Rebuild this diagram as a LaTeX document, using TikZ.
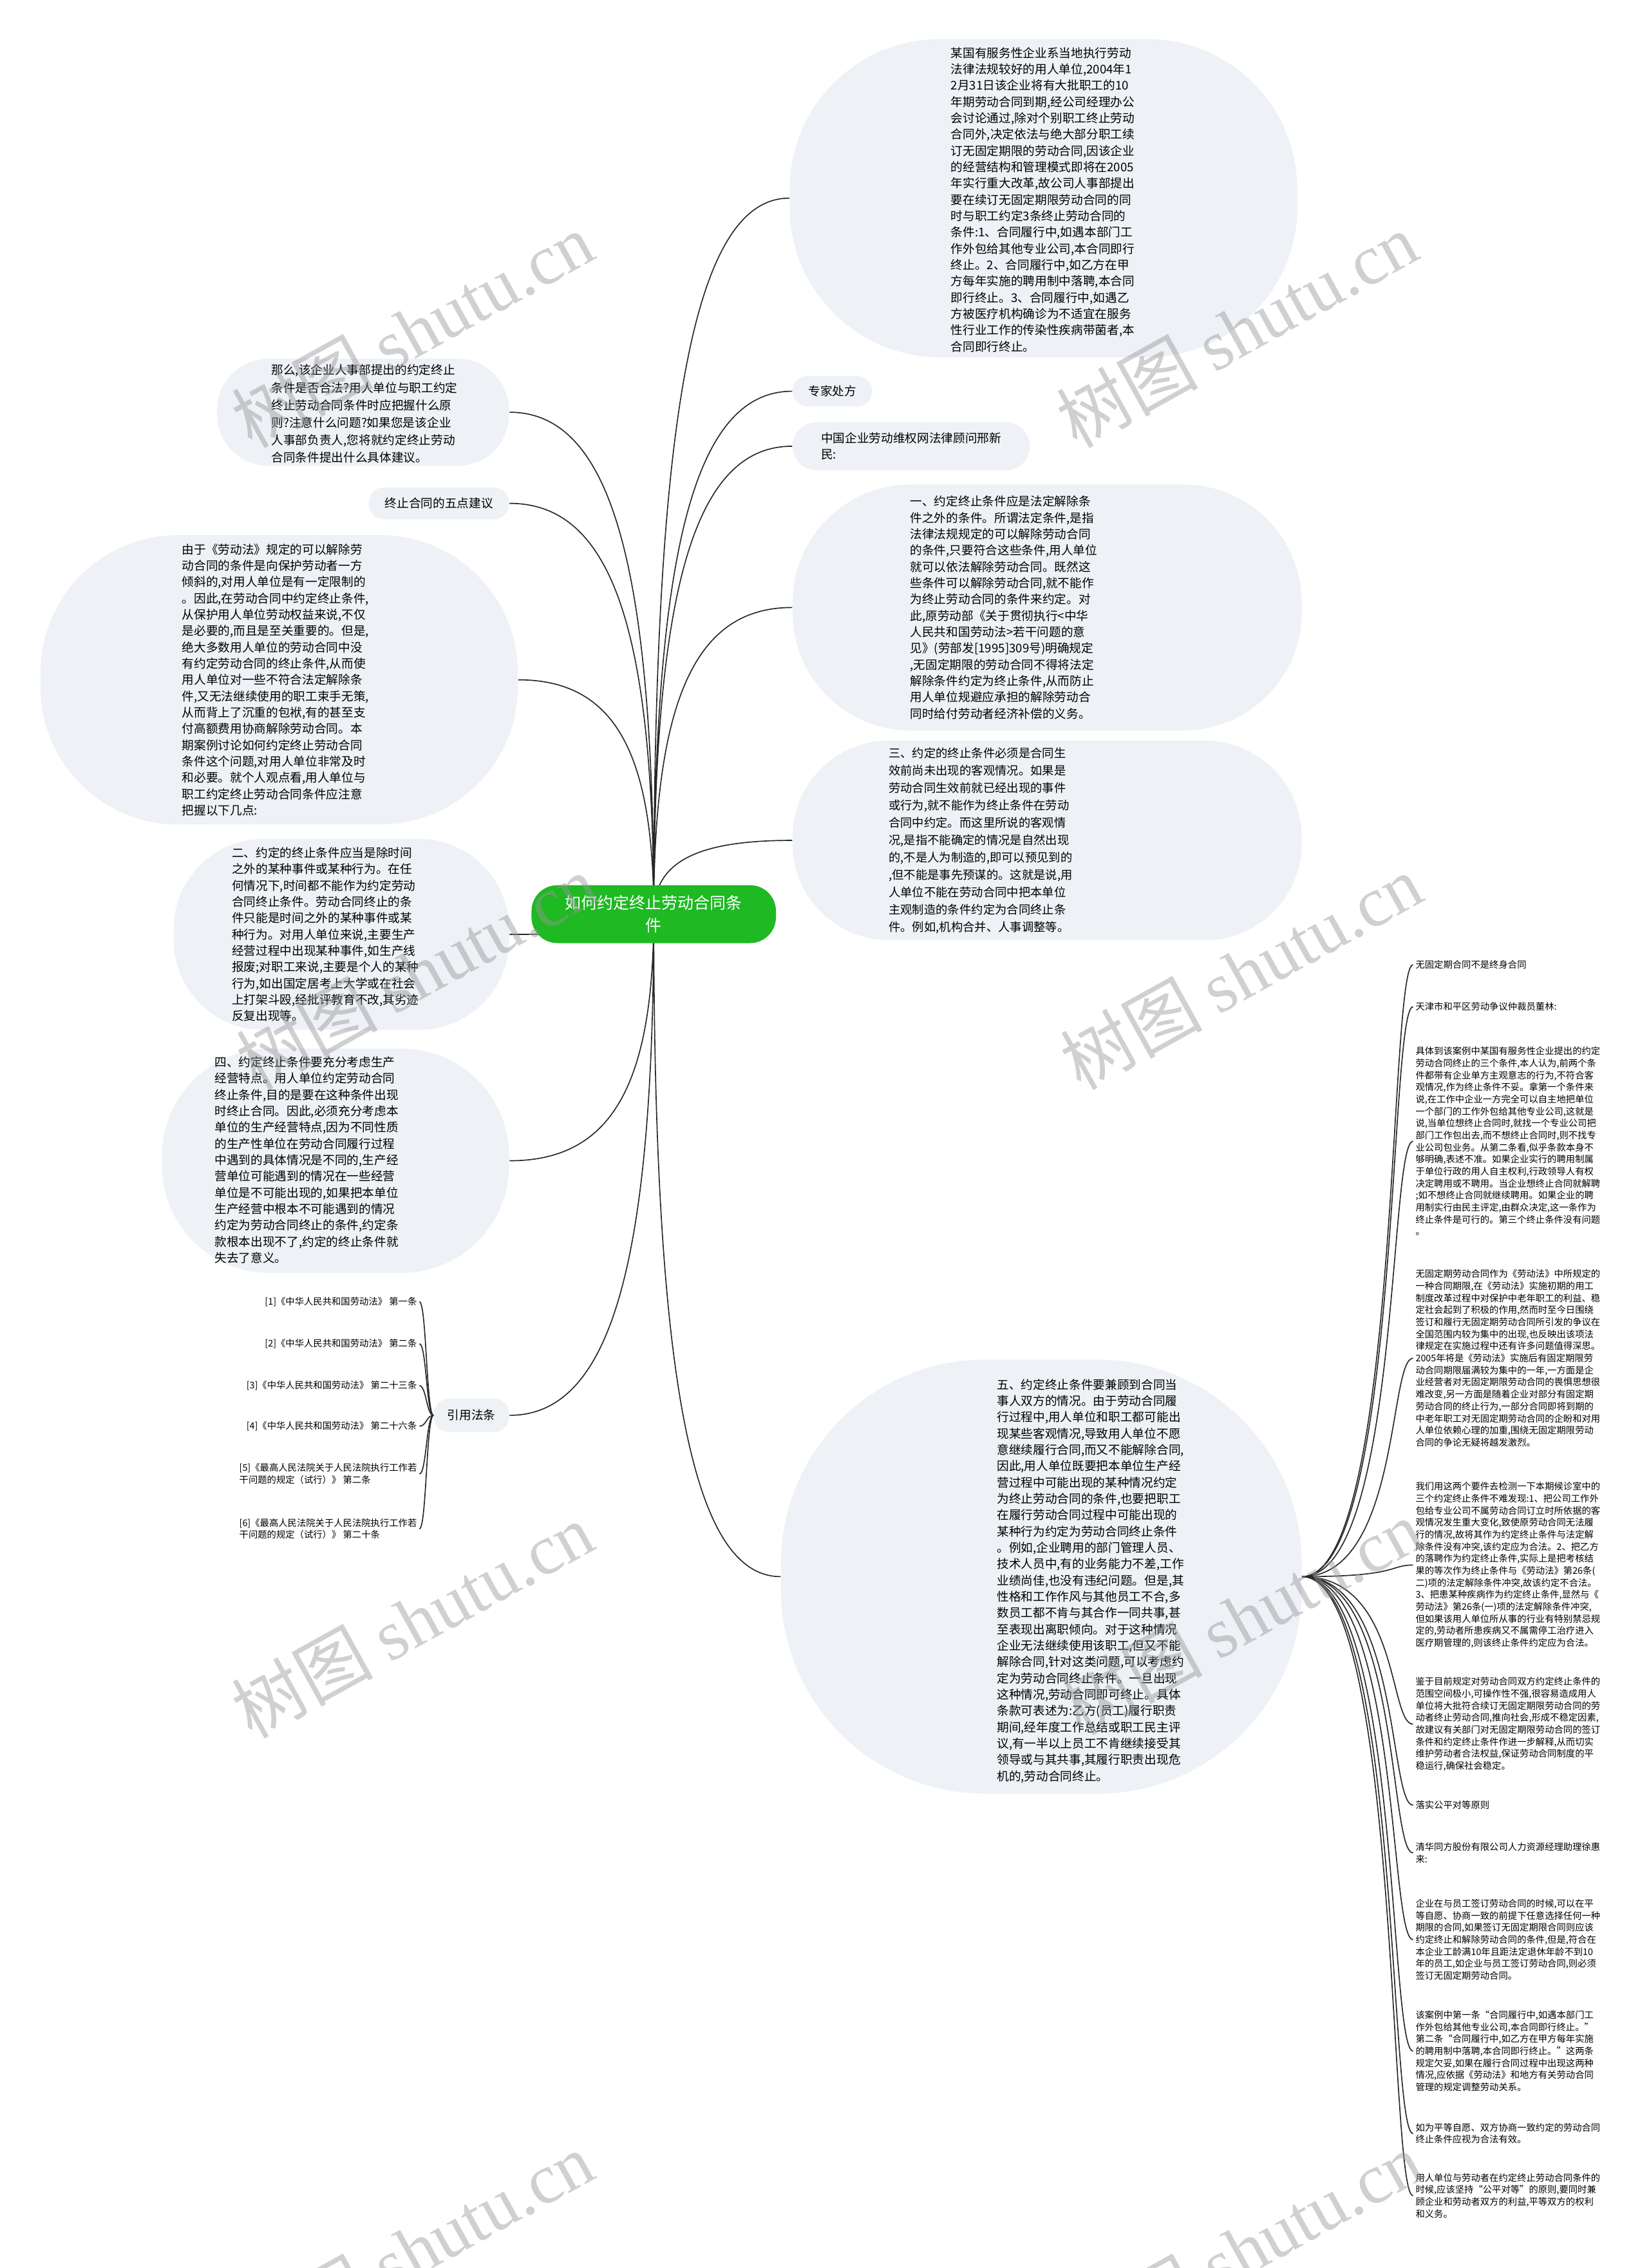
\documentclass[tikz,border=0pt]{standalone}
\usepackage{fontspec}
\setmainfont{Noto Sans CJK SC}
\newfontfamily\wmserif{Liberation Serif}
\usetikzlibrary{calc, backgrounds}
\definecolor{bubblebg}{RGB}{238,241,245}
\definecolor{rootgreen}{RGB}{30,185,35}
\definecolor{linkcol}{RGB}{40,40,40}
\definecolor{wmgray}{RGB}{150,150,150}
\newlength{\rp}\setlength{\rp}{0.6737pt}
\tikzset{
  bubble/.style={rectangle, rounded corners=#1, fill=bubblebg, inner sep=0pt},
  body/.style={align=left, inner sep=0pt, font=\fontsize{5.6}{7.6}\selectfont},
  pill/.style={bubble=#1, align=center, font=\fontsize{5.6}{7.6}\selectfont},
  rootbox/.style={
    rectangle, rounded corners=12pt, fill=rootgreen, text=white,
    align=center, minimum width=169\rp, minimum height=40\rp,
    font=\fontsize{7.5}{10.5}\selectfont
  },
  leaf/.style={align=left, inner sep=1pt, font=\fontsize{4.3}{5.6}\selectfont},
  link/.style={draw=linkcol, line width=0.5pt,
    to path={.. controls ($(\tikztostart)!0.7!(\tikztostart|-\tikztotarget)$)
      and ($(\tikztotarget)!0.7!(\tikztostart|-\tikztotarget)$) .. (\tikztotarget)}},
  brace/.style={draw=linkcol, line width=0.5pt,
    to path={.. controls ($(\tikztostart)!0.5!(\tikztostart-|\tikztotarget)$)
      and ($(\tikztotarget)!0.5!(\tikztotarget-|\tikztostart)$) .. (\tikztotarget)}},
  fan/.style={draw=linkcol, line width=0.5pt,
    to path={.. controls ($(\tikztostart)!0.88!(\tikztostart-|\tikztotarget)$)
      and ($(\tikztotarget)!0.22!(\tikztotarget-|\tikztostart)$) .. (\tikztotarget)}},
  wmark/.style={text=wmgray, opacity=0.45, rotate=29, inner sep=0pt,
    font=\fontsize{33}{33}\selectfont},
}
\begin{document}
\begin{tikzpicture}[x=0.6737pt, y=-0.6737pt]
  \useasboundingbox (0,0) rectangle (1140,1568);

  % centre topic
  \node[rootbox] (root) at (452,632) {如何约定终止劳动合同条\\件};

  % right side
  \node[bubble=70pt, minimum width=351\rp, minimum height=220\rp] (case) at (721.5,137) {};
  \node[body] (casetxt) at (721,138) {%
    某国有服务性企业系当地执行劳动\\法律法规较好的用人单位,2004年1\\2月31日该企业将有大批职工的10\\%
    年期劳动合同到期,经公司经理办公\\会讨论通过,除对个别职工终止劳动\\合同外,决定依法与绝大部分职工续\\%
    订无固定期限的劳动合同,因该企业\\的经营结构和管理模式即将在2005\\年实行重大改革,故公司人事部提出\\%
    要在续订无固定期限劳动合同的同\\时与职工约定3条终止劳动合同的\\条件:1、合同履行中,如遇本部门工\\%
    作外包给其他专业公司,本合同即行\\终止。2、合同履行中,如乙方在甲\\方每年实施的聘用制中落聘,本合同\\%
    即行终止。3、合同履行中,如遇乙\\方被医疗机构确诊为不适宜在服务\\性行业工作的传染性疾病带菌者,本\\合同即行终止。};
  \node[pill=7pt, minimum width=55\rp, minimum height=21\rp] (expert) at (575.5,270.5) {专家处方};
  \node[pill=11pt, align=left, minimum width=164\rp, minimum height=33\rp] (xing) at (630,308.5) {中国企业劳动维权网法律顾问邢新\\民:};
  \node[bubble=55pt, minimum width=352\rp, minimum height=170\rp] (one) at (724,420) {};
  \node[body] (onetxt) at (694,420) {%
    一、约定终止条件应是法定解除条\\件之外的条件。所谓法定条件,是指\\法律法规规定的可以解除劳动合同\\%
    的条件,只要符合这些条件,用人单位\\就可以依法解除劳动合同。既然这\\些条件可以解除劳动合同,就不能作\\%
    为终止劳动合同的条件来约定。对\\此,原劳动部《关于贯彻执行<中华\\人民共和国劳动法>若干问题的意\\%
    见》(劳部发[1995]309号)明确规定\\,无固定期限的劳动合同不得将法定\\解除条件约定为终止条件,从而防止\\%
    用人单位规避应承担的解除劳动合\\同时给付劳动者经济补偿的义务。};
  \node[bubble=45pt, minimum width=352\rp, minimum height=138\rp] (three) at (724,581) {};
  \node[body, font=\fontsize{5.5}{8.1}\selectfont] (threetxt) at (678,581) {%
    三、约定的终止条件必须是合同生\\效前尚未出现的客观情况。如果是\\劳动合同生效前就已经出现的事件\\%
    或行为,就不能作为终止条件在劳动\\合同中约定。而这里所说的客观情\\况,是指不能确定的情况是自然出现\\%
    的,不是人为制造的,即可以预见到的\\,但不能是事先预谋的。这就是说,用\\人单位不能在劳动合同中把本单位\\%
    主观制造的条件约定为合同终止条\\件。例如,机构合并、人事调整等。};
  \node[bubble=95pt, minimum width=360\rp, minimum height=300\rp] (five) at (720,1090) {};
  \node[body] (fivetxt) at (754,1093) {%
    五、约定终止条件要兼顾到合同当\\事人双方的情况。由于劳动合同履\\行过程中,用人单位和职工都可能出\\%
    现某些客观情况,导致用人单位不愿\\意继续履行合同,而又不能解除合同,\\因此,用人单位既要把本单位生产经\\%
    营过程中可能出现的某种情况约定\\为终止劳动合同的条件,也要把职工\\在履行劳动合同过程中可能出现的\\%
    某种行为约定为劳动合同终止条件\\。例如,企业聘用的部门管理人员、\\技术人员中,有的业务能力不差,工作\\%
    业绩尚佳,也没有违纪问题。但是,其\\性格和工作作风与其他员工不合,多\\数员工都不肯与其合作一同共事,甚\\%
    至表现出离职倾向。对于这种情况\\企业无法继续使用该职工,但又不能\\解除合同,针对这类问题,可以考虑约\\%
    定为劳动合同终止条件。一旦出现\\这种情况,劳动合同即可终止。具体\\条款可表述为:乙方(员工)履行职责\\%
    期间,经年度工作总结或职工民主评\\议,有一半以上员工不肯继续接受其\\领导或与其共事,其履行职责出现危\\机的,劳动合同终止。};

  % left side
  \node[bubble=24pt, minimum width=202\rp, minimum height=74\rp] (question) at (251,285) {};
  \node[body, font=\fontsize{5.6}{8.1}\selectfont] (questiontxt) at (252,286) {%
    那么,该企业人事部提出的约定终止\\条件是否合法?用人单位与职工约定\\终止劳动合同条件时应把握什么原\\%
    则?注意什么问题?如果您是该企业\\人事部负责人,您将就约定终止劳动\\合同条件提出什么具体建议。};
  \node[pill=7pt, minimum width=97\rp, minimum height=22\rp] (advice) at (303.5,348) {终止合同的五点建议};
  \node[bubble=64pt, minimum width=330\rp, minimum height=200\rp] (reason) at (193,470) {};
  \node[body] (reasontxt) at (190.5,470) {%
    由于《劳动法》规定的可以解除劳\\动合同的条件是向保护劳动者一方\\倾斜的,对用人单位是有一定限制的\\%
    。因此,在劳动合同中约定终止条件,\\从保护用人单位劳动权益来说,不仅\\是必要的,而且是至关重要的。但是,\\%
    绝大多数用人单位的劳动合同中没\\有约定劳动合同的终止条件,从而使\\用人单位对一些不符合法定解除条\\%
    件,又无法继续使用的职工束手无策,\\从而背上了沉重的包袱,有的甚至支\\付高额费用协商解除劳动合同。本\\%
    期案例讨论如何约定终止劳动合同\\条件这个问题,对用人单位非常及时\\和必要。就个人观点看,用人单位与\\%
    职工约定终止劳动合同条件应注意\\把握以下几点:};
  \node[bubble=42pt, minimum width=232\rp, minimum height=132\rp] (two) at (236,646) {};
  \node[body] (twotxt) at (225,646) {%
    二、约定的终止条件应当是除时间\\之外的某种事件或某种行为。在任\\何情况下,时间都不能作为约定劳动\\%
    合同终止条件。劳动合同终止的条\\件只能是时间之外的某种事件或某\\种行为。对用人单位来说,主要生产\\%
    经营过程中出现某种事件,如生产线\\报废;对职工来说,主要是个人的某种\\行为,如出国定居考上大学或在社会\\%
    上打架斗殴,经批评教育不改,其劣迹\\反复出现等。};
  \node[bubble=50pt, minimum width=240\rp, minimum height=155\rp] (four) at (232,802.5) {};
  \node[body] (fourtxt) at (212,802) {%
    四、约定终止条件要充分考虑生产\\经营特点。用人单位约定劳动合同\\终止条件,目的是要在这种条件出现\\%
    时终止合同。因此,必须充分考虑本\\单位的生产经营特点,因为不同性质\\的生产性单位在劳动合同履行过程\\%
    中遇到的具体情况是不同的,生产经\\营单位可能遇到的情况在一些经营\\单位是不可能出现的,如果把本单位\\%
    生产经营中根本不可能遇到的情况\\约定为劳动合同终止的条件,约定条\\款根本出现不了,约定的终止条件就\\%
    失去了意义。};
  \node[pill=7pt, minimum width=52\rp, minimum height=23\rp] (law) at (326,978.5) {引用法条};

  % cited articles
  \node[leaf, anchor=east] (law1) at (290,900) {[1]《中华人民共和国劳动法》 第一条};
  \node[leaf, anchor=east] (law2) at (290,929) {[2]《中华人民共和国劳动法》 第二条};
  \node[leaf, anchor=east] (law3) at (290,958) {[3]《中华人民共和国劳动法》 第二十三条};
  \node[leaf, anchor=east] (law4) at (290,986) {[4]《中华人民共和国劳动法》 第二十六条};
  \node[leaf, anchor=east] (law5) at (290,1019) {[5]《最高人民法院关于人民法院执行工作若\\干问题的规定（试行）》 第二条};
  \node[leaf, anchor=east] (law6) at (290,1057) {[6]《最高人民法院关于人民法院执行工作若\\干问题的规定（试行）》 第二十条};

  % far right notes
  \node[leaf, anchor=west] (note1) at (977,667) {无固定期合同不是终身合同};
  \node[leaf, anchor=west] (note2) at (977,696) {天津市和平区劳动争议仲裁员董林:};
  \node[leaf, anchor=west] (note3) at (977,789) {%
    具体到该案例中某国有服务性企业提出的约定\\劳动合同终止的三个条件,本人认为,前两个条\\%
    件都带有企业单方主观意志的行为,不符合客\\观情况,作为终止条件不妥。拿第一个条件来\\%
    说,在工作中企业一方完全可以自主地把单位\\一个部门的工作外包给其他专业公司,这就是\\%
    说,当单位想终止合同时,就找一个专业公司把\\部门工作包出去,而不想终止合同时,则不找专\\%
    业公司包业务。从第二条看,似乎条款本身不\\够明确,表述不准。如果企业实行的聘用制属\\%
    于单位行政的用人自主权利,行政领导人有权\\决定聘用或不聘用。当企业想终止合同就解聘\\%
    ;如不想终止合同就继续聘用。如果企业的聘\\用制实行由民主评定,由群众决定,这一条作为\\%
    终止条件是可行的。第三个终止条件没有问题\\。};
  \node[leaf, anchor=west] (note4) at (977,939) {%
    无固定期劳动合同作为《劳动法》中所规定的\\一种合同期限,在《劳动法》实施初期的用工\\%
    制度改革过程中对保护中老年职工的利益、稳\\定社会起到了积极的作用,然而时至今日围绕\\%
    签订和履行无固定期劳动合同所引发的争议在\\全国范围内较为集中的出现,也反映出该项法\\%
    律规定在实施过程中还有许多问题值得深思。\\2005年将是《劳动法》实施后有固定期限劳\\%
    动合同期限届满较为集中的一年,一方面是企\\业经营者对无固定期限劳动合同的畏惧思想很\\%
    难改变,另一方面是随着企业对部分有固定期\\劳动合同的终止行为,一部分合同即将到期的\\%
    中老年职工对无固定期劳动合同的企盼和对用\\人单位依赖心理的加重,围绕无固定期限劳动\\%
    合同的争论无疑将越发激烈。};
  \node[leaf, anchor=west] (note5) at (977,1082) {%
    我们用这两个要件去检测一下本期候诊室中的\\三个约定终止条件不难发现:1、把公司工作外\\%
    包给专业公司不属劳动合同订立时所依据的客\\观情况发生重大变化,致使原劳动合同无法履\\%
    行的情况,故将其作为约定终止条件与法定解\\除条件没有冲突,该约定应为合法。2、把乙方\\%
    的落聘作为约定终止条件,实际上是把考核结\\果的等次作为终止条件与《劳动法》第26条(\\%
    二)项的法定解除条件冲突,故该约定不合法。\\3、把患某种疾病作为约定终止条件,显然与《\\%
    劳动法》第26条(一)项的法定解除条件冲突,\\但如果该用人单位所从事的行业有特别禁忌规\\%
    定的,劳动者所患疾病又不属需停工治疗进入\\医疗期管理的,则该终止条件约定应为合法。};
  \node[leaf, anchor=west] (note6) at (977,1192) {%
    鉴于目前规定对劳动合同双方约定终止条件的\\范围空间极小,可操作性不强,很容易造成用人\\%
    单位将大批符合续订无固定期限劳动合同的劳\\动者终止劳动合同,推向社会,形成不稳定因素,\\%
    故建议有关部门对无固定期限劳动合同的签订\\条件和约定终止条件作进一步解释,从而切实\\%
    维护劳动者合法权益,保证劳动合同制度的平\\稳运行,确保社会稳定。};
  \node[leaf, anchor=west] (note7) at (977,1248) {落实公平对等原则};
  \node[leaf, anchor=west] (note8) at (977,1281) {清华同方股份有限公司人力资源经理助理徐惠\\来:};
  \node[leaf, anchor=west] (note9) at (977,1341) {%
    企业在与员工签订劳动合同的时候,可以在平\\等自愿、协商一致的前提下任意选择任何一种\\%
    期限的合同,如果签订无固定期限合同则应该\\约定终止和解除劳动合同的条件,但是,符合在\\%
    本企业工龄满10年且距法定退休年龄不到10\\年的员工,如企业与员工签订劳动合同,则必须\\%
    签订无固定期劳动合同。};
  \node[leaf, anchor=west] (note10) at (977,1418) {%
    该案例中第一条“合同履行中,如遇本部门工\\作外包给其他专业公司,本合同即行终止。”\\%
    第二条“合同履行中,如乙方在甲方每年实施\\的聘用制中落聘,本合同即行终止。”这两条\\%
    规定欠妥,如果在履行合同过程中出现这两种\\情况,应依据《劳动法》和地方有关劳动合同\\%
    管理的规定调整劳动关系。};
  \node[leaf, anchor=west] (note11) at (977,1475) {如为平等自愿、双方协商一致约定的劳动合同\\终止条件应视为合法有效。};
  \node[leaf, anchor=west] (note12) at (977,1518) {%
    用人单位与劳动者在约定终止劳动合同条件的\\时候,应该坚持“公平对等”的原则,要同时兼\\%
    顾企业和劳动者双方的利益,平等双方的权利\\和义务。};

  % connectors
  \begin{scope}[on background layer]
    \draw[link] (root.center) to (case.west)
                (root.center) to (expert.west)
                (root.center) to (xing.west)
                (root.center) to (one.west)
                (root.center) to (three.west)
                (root.center) to (question.east)
                (root.center) to (advice.east)
                (root.center) to (reason.east)
                (root.center) to (two.east)
                (root.center) to (four.east)
                (root.center) to (law.east)
                (root.center) to (five.west);
    \foreach \i in {1,...,6}
      \draw[brace] (law.west) to (law\i.east);
    \foreach \i in {1,...,12}
      \draw[fan] (five.east) to (note\i.west);
  \end{scope}

  % watermarks
  \foreach \wx/\wy [count=\k] in {285/228, 855/228, 288/672, 858/672, 285/1120, 858/1118, 285/1555, 858/1555}
    \node[wmark] (wm\k) at (\wx,\wy) {树图 {\wmserif shutu.cn}};
\end{tikzpicture}
\end{document}
